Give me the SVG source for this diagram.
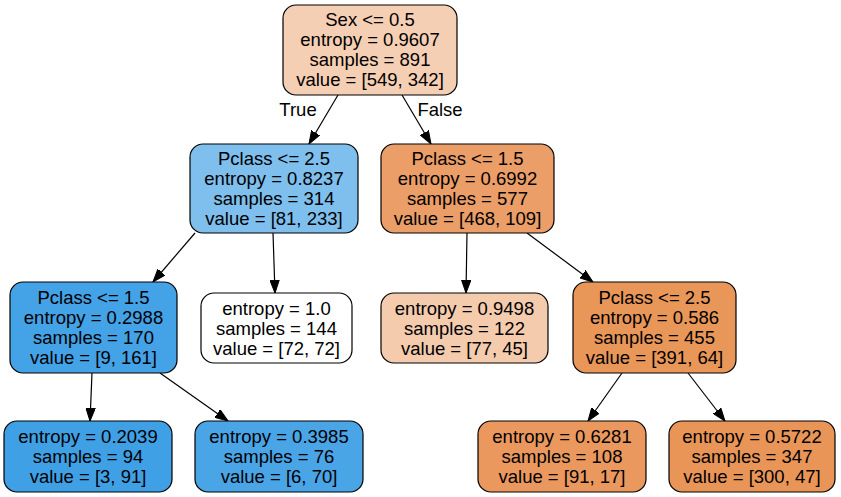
<svg xmlns="http://www.w3.org/2000/svg" width="841" height="497" viewBox="0 0 841 497">
<defs>
<marker id="ah" markerUnits="userSpaceOnUse" markerWidth="14" markerHeight="10" refX="13" refY="5" orient="auto">
<path d="M0,0.3 L13,5 L0,9.7 z" fill="#000" stroke="#000" stroke-width="1"/>
</marker>
</defs>
<style>
.box { stroke: #000; stroke-width: 1.2; }
text { font-family: "Liberation Sans", Arial, sans-serif; font-size: 18.5px; fill: #000; text-anchor: middle; }
.edge { stroke: #000; stroke-width: 1.2; fill: none; marker-end: url(#ah); }
</style>
<rect width="841" height="497" fill="#fff"/>
<g id="edges">
<line class="edge" x1="338" y1="95" x2="309" y2="144"/>
<line class="edge" x1="402" y1="95" x2="431" y2="144"/>
<line class="edge" x1="195" y1="233" x2="153" y2="282"/>
<line class="edge" x1="273" y1="233" x2="275" y2="293"/>
<line class="edge" x1="467" y1="233" x2="466" y2="293"/>
<line class="edge" x1="527" y1="233" x2="593" y2="282"/>
<line class="edge" x1="92" y1="373" x2="90" y2="421"/>
<line class="edge" x1="160" y1="373" x2="228" y2="421"/>
<line class="edge" x1="622" y1="373" x2="588" y2="421"/>
<line class="edge" x1="688" y1="373" x2="725" y2="421"/>
<text x="298" y="116">True</text>
<text x="440" y="116">False</text>
</g>
<g id="n0">
<rect class="box" x="283" y="5" width="174" height="90" rx="13" fill="#f5cfb4"/>
<text x="370" y="26">Sex &lt;= 0.5</text>
<text x="370" y="46">entropy = 0.9607</text>
<text x="370" y="66">samples = 891</text>
<text x="370" y="86">value = [549, 342]</text>
</g>
<g id="n1">
<rect class="box" x="190" y="144" width="168" height="89" rx="13" fill="#7ebfee"/>
<text x="274" y="165">Pclass &lt;= 2.5</text>
<text x="274" y="185">entropy = 0.8237</text>
<text x="274" y="205">samples = 314</text>
<text x="274" y="225">value = [81, 233]</text>
</g>
<g id="n2">
<rect class="box" x="381" y="144" width="173" height="89" rx="13" fill="#eb9e67"/>
<text x="467.5" y="165">Pclass &lt;= 1.5</text>
<text x="467.5" y="185">entropy = 0.6992</text>
<text x="467.5" y="205">samples = 577</text>
<text x="467.5" y="225">value = [468, 109]</text>
</g>
<g id="n3">
<rect class="box" x="10" y="282" width="167" height="91" rx="13" fill="#44a2e6"/>
<text x="93.5" y="304">Pclass &lt;= 1.5</text>
<text x="93.5" y="324">entropy = 0.2988</text>
<text x="93.5" y="344">samples = 170</text>
<text x="93.5" y="364">value = [9, 161]</text>
</g>
<g id="n4">
<rect class="box" x="201" y="293" width="151" height="70" rx="13" fill="#ffffff"/>
<text x="276.5" y="314.5">entropy = 1.0</text>
<text x="276.5" y="334.5">samples = 144</text>
<text x="276.5" y="354.5">value = [72, 72]</text>
</g>
<g id="n5">
<rect class="box" x="381" y="293" width="167" height="70" rx="13" fill="#f4cbad"/>
<text x="464.5" y="314.5">entropy = 0.9498</text>
<text x="464.5" y="334.5">samples = 122</text>
<text x="464.5" y="354.5">value = [77, 45]</text>
</g>
<g id="n6">
<rect class="box" x="573" y="282" width="163" height="91" rx="13" fill="#e99659"/>
<text x="654.5" y="304">Pclass &lt;= 2.5</text>
<text x="654.5" y="324">entropy = 0.586</text>
<text x="654.5" y="344">samples = 455</text>
<text x="654.5" y="364">value = [391, 64]</text>
</g>
<g id="n7">
<rect class="box" x="4" y="421" width="168" height="71" rx="13" fill="#40a0e6"/>
<text x="88" y="442.5">entropy = 0.2039</text>
<text x="88" y="462.5">samples = 94</text>
<text x="88" y="482.5">value = [3, 91]</text>
</g>
<g id="n8">
<rect class="box" x="195" y="421" width="168" height="71" rx="13" fill="#4aa5e7"/>
<text x="279" y="442.5">entropy = 0.3985</text>
<text x="279" y="462.5">samples = 76</text>
<text x="279" y="482.5">value = [6, 70]</text>
</g>
<g id="n9">
<rect class="box" x="478" y="421" width="168" height="71" rx="13" fill="#ea985e"/>
<text x="562" y="442.5">entropy = 0.6281</text>
<text x="562" y="462.5">samples = 108</text>
<text x="562" y="482.5">value = [91, 17]</text>
</g>
<g id="n10">
<rect class="box" x="669" y="421" width="166" height="71" rx="13" fill="#e99558"/>
<text x="752" y="442.5">entropy = 0.5722</text>
<text x="752" y="462.5">samples = 347</text>
<text x="752" y="482.5">value = [300, 47]</text>
</g>
</svg>
